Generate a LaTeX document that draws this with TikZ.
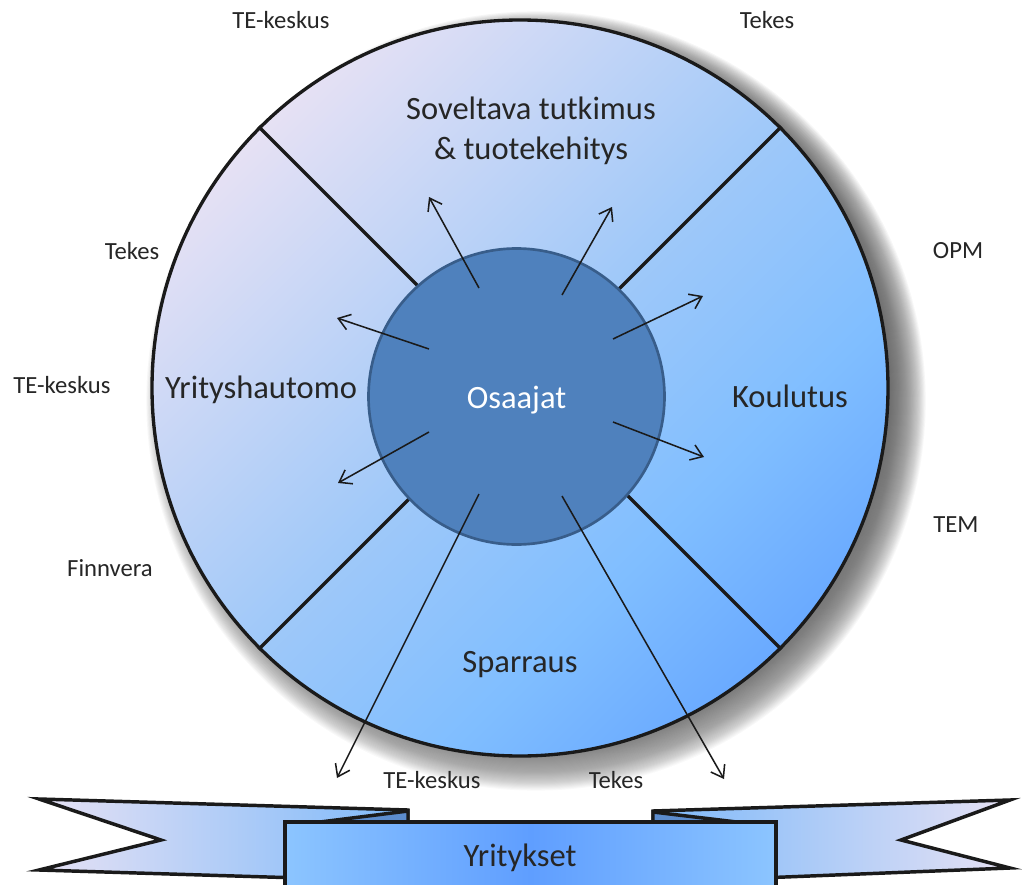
\documentclass[tikz,border=0pt]{standalone}
\usepackage{fontspec}
\setmainfont{Carlito}
\usetikzlibrary{arrows.meta,calc}
\definecolor{lav}{RGB}{230,225,244}
\definecolor{midb}{RGB}{158,200,249}
\definecolor{brightb}{RGB}{128,190,255}
\definecolor{deepb}{RGB}{106,170,255}
\definecolor{tailb}{RGB}{125,185,250}
\definecolor{boxl}{RGB}{140,197,255}
\definecolor{boxm}{RGB}{95,158,255}
\definecolor{foldc}{RGB}{92,140,205}
\definecolor{corefill}{RGB}{79,129,189}
\definecolor{coreb}{RGB}{56,93,138}
\definecolor{ink}{RGB}{26,26,26}
\definecolor{txt}{RGB}{38,38,38}
\definecolor{shade}{RGB}{60,60,60}
\pgfdeclarehorizontalshading{discshade}{100bp}{color(0bp)=(lav); color(25bp)=(lav); color(50bp)=(midb); color(64bp)=(brightb); color(75bp)=(deepb); color(100bp)=(deepb)}
\newcommand\bigfs{\fontsize{24.4}{30}\selectfont}
\newcommand\smallfs{\fontsize{18.5}{22}\selectfont}
\begin{document}
\begin{tikzpicture}[x=0.75pt,y=-0.75pt,
  divider/.style={draw=ink,line width=2.5pt},
  outarrow/.style={draw=ink,line width=1.15pt,-{Straight Barb[length=8.5pt,width=12pt,line width=1.15pt]}},
  small/.style={font=\smallfs,text=txt,inner sep=0pt},
  sector/.style={font=\bigfs,text=txt,inner sep=0pt,align=center},
  banner/.style={draw=ink,line width=2.6pt,line join=miter}]
\useasboundingbox (0,0) rectangle (1022,885);
\clip (0,0) rectangle (1022,885);
\fill[white] (0,0) rectangle (1022,885);
% soft shadow of the disc
\foreach \k in {1,...,38}
  \fill[shade,opacity=0.022] (536,401) circle[radius={(293-\k*0.8)*1pt}];
% outer disc
\node[circle,draw=ink,line width=2.5pt,minimum size=552pt,inner sep=0pt,
      shading=discshade,shading angle=-45] (outer) at (520,388) {};
% sector dividers
\draw[divider] (outer.135) -- (outer.center);
\draw[divider] (outer.45) -- (outer.center);
\draw[divider] (outer.225) -- (outer.center);
\draw[divider] (outer.-45) -- (outer.center);
% core
\node[circle,draw=coreb,line width=2pt,fill=corefill,minimum size=222pt,inner sep=0pt,
      text=white,font=\bigfs,text height=23.5pt,text depth=5pt] (core) at (516.5,396.5) {Osaajat};
% arrows
\coordinate (s1) at (479,288); \coordinate (e1) at (429,197);
\coordinate (s2) at (562,295); \coordinate (e2) at (612,207);
\coordinate (s3) at (613,339); \coordinate (e3) at (703,296);
\coordinate (s4) at (429,349); \coordinate (e4) at (337,318);
\coordinate (s5) at (429,432); \coordinate (e5) at (338,483);
\coordinate (s6) at (613,422); \coordinate (e6) at (704,457);
\coordinate (s7) at (479,494); \coordinate (e7) at (337,778);
\coordinate (s8) at (562,496); \coordinate (e8) at (724,779);
\foreach \i in {1,...,8} \draw[outarrow] (s\i) -- (e\i);
% sector labels
\node[sector] (soveltava) at (531,131) {Soveltava tutkimus\\\& tuotekehitys};
\node[sector] (hautomo) at (261,390) {Yrityshautomo};
\node[sector] (koulutus) at (790,396) {Koulutus};
\node[sector] (sparraus) at (520,665) {Sparraus};
% outside labels
\node[small] (tk1) at (281,20) {TE-keskus};
\node[small] (tek1) at (767,20) {Tekes};
\node[small] (tek2) at (132,251) {Tekes};
\node[small] (opm) at (958,251) {OPM};
\node[small] (tk2) at (62,385) {TE-keskus};
\node[small] (finn) at (110,568) {Finnvera};
\node[small] (tem) at (956,525) {TEM};
\node[small] (tk3) at (432,780) {TE-keskus};
\node[small] (tek3) at (616,780) {Tekes};
% banner tails
\path[banner,left color=lav,right color=tailb]
  (39,799) -- (408,810) -- (408,870) -- (300,878) -- (39,870) -- (161,840) -- cycle;
\path[banner,left color=tailb,right color=lav]
  (1010,800) -- (653,811) -- (653,870) -- (760,878) -- (1010,868) -- (901,840) -- cycle;
\path[banner,fill=foldc] (408,811) -- (408,823) -- (312,823) -- cycle;
\path[banner,fill=foldc] (653,812) -- (653,823) -- (745,823) -- cycle;
% banner front
\path[banner,left color=boxl,right color=boxl,middle color=boxm] (285,822) rectangle (776,905);
\node[sector] (yritykset) at (520,858) {Yritykset};
\end{tikzpicture}
\end{document}
